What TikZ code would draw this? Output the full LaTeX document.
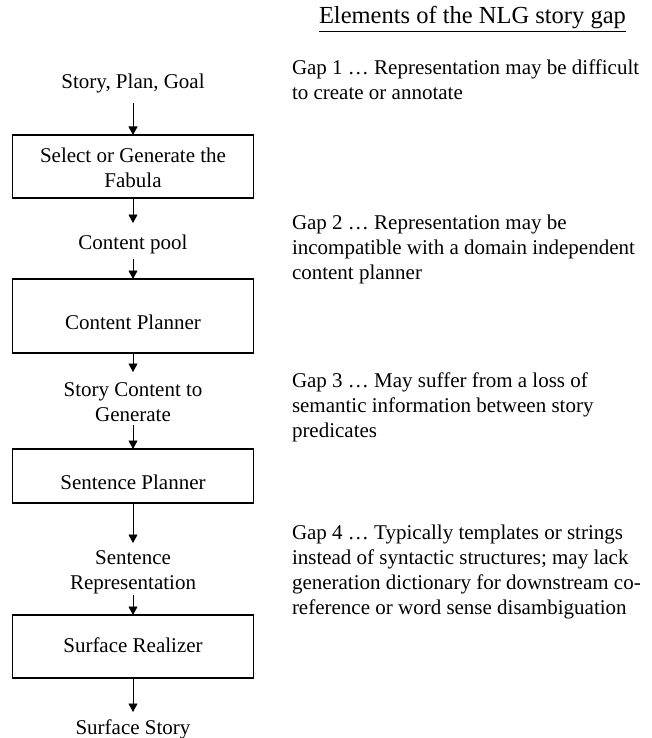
\documentclass[tikz,border=0pt]{standalone}
\usepackage{fontspec}
\setmainfont{Liberation Serif}
\usetikzlibrary{arrows.meta}
\begin{document}
\begin{tikzpicture}[x=1pt,y=-1pt,
  font=\fontsize{21}{25}\selectfont,
  every node/.style={inner sep=0pt, outer sep=0pt},
  stage/.style={draw, line width=1.3pt, minimum width=241.5pt},
  lbl/.style={align=center},
  gaptext/.style={align=left, anchor=north west},
  flow/.style={line width=0.9pt, -{Triangle[length=8.5pt,width=9pt]}}
]
\useasboundingbox (0,0) rectangle (652,738);

% pipeline column
\node[lbl, anchor=base] (input) at (133,89) {\strut Story, Plan, Goal};
\node[stage, align=center, minimum height=63pt] (fabula) at (133,166.5) {\strut Select or Generate the\\Fabula};
\node[lbl, anchor=base] (pool) at (133,249) {\strut Content pool};
\node[stage, minimum height=74pt, text height=26pt, text depth=0pt] (cplan) at (133,316) {Content Planner};
\node[lbl, anchor=north] (scg) at (133,378.5) {\strut Story Content to\\Generate\strut};
\node[stage, minimum height=54pt, text height=26pt, text depth=0pt] (splan) at (133,476) {Sentence Planner};
\node[lbl, anchor=north] (srep) at (133,546.5) {\strut Sentence\\Representation\strut};
\node[stage, minimum height=63pt, text height=15.8pt, text depth=4.2pt] (real) at (133,646.5) {Surface Realizer};
\node[lbl, anchor=base] (story) at (133,734) {\strut Surface Story};

\draw[flow, shorten <=6.5pt] (input.south) -- (fabula.north);
\draw[flow, shorten >=8.5pt] (fabula.south) -- (pool.north);
\draw[flow, shorten <=2.5pt] (pool.south) -- (cplan.north);
\draw[flow, shorten >=6.5pt] (cplan.south) -- (scg.north);
\draw[flow, shorten <=-3.5pt] (scg.south) -- (splan.north);
\draw[flow, shorten >=3.5pt] (splan.south) -- (srep.north);
\draw[flow, shorten <=-1.5pt] (srep.south) -- (real.north);
\draw[flow, shorten >=4.5pt] (real.south) -- (story.north);

% gap notes
\node[anchor=base west, font=\fontsize{24.5}{29}\selectfont] (title) at (319,24) {Elements of the NLG story gap};
\draw[line width=1pt] ([yshift=-8pt]title.base west) -- ([yshift=-8pt]title.base east);

\node[gaptext] (gap1) at (292,57.5) {\strut Gap 1 … Representation may be difficult\\to create or annotate};
\node[gaptext] (gap2) at (292,211.5) {\strut Gap 2 … Representation may be\\incompatible with a domain independent\\content planner};
\node[gaptext] (gap3) at (292,369.5) {\strut Gap 3 … May suffer from a loss of\\semantic information between story\\predicates};
\node[gaptext] (gap4) at (292,522) {\strut Gap 4 … Typically templates or strings\\instead of syntactic structures; may lack\\generation dictionary for downstream co-\\reference or word sense disambiguation};
\end{tikzpicture}
\end{document}
